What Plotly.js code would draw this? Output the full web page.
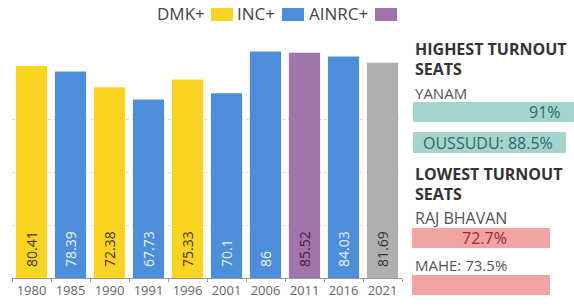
<!DOCTYPE html>
<html><head><meta charset="utf-8">
<script src="https://cdn.plot.ly/plotly-3.0.1.min.js"></script>
<style>html,body{margin:0;padding:0;background:#fff}#c{width:574px;height:307px}</style>
</head><body><div id="c"></div>
<script>
const years = ['1980','1985','1990','1991','1996','2001','2006','2011','2016','2021'];
const turnout = [80.41,78.39,72.38,67.73,75.33,70.1,86,85.52,84.03,81.69];
const winner = ['DMK+','INC+','DMK+','INC+','DMK+','INC+','INC+','AINRC+','INC+','NDA'];
const legendNames = ['DMK+','INC+','AINRC+'];
const highSeats = ['YANAM','OUSSUDU'];
const highValues = [91, 88.5];
const lowSeats = ['RAJ BHAVAN','MAHE'];
const lowValues = [72.7, 73.5];

const fill = {'DMK+':'#F9D423','INC+':'#4C8FD8','AINRC+':'#A274AC','NDA':'#B0AFAF'};
const txt = {'DMK+':'#3b3418','INC+':'#eaf3fc','AINRC+':'#4d1646','NDA':'#333333'};

const W=574,H=307, ml=12, mr=172, mt=45, mb=29;
const pw=W-ml-mr, ph=H-mt-mb;
const px = x => (x-ml)/pw;
const py = y => (mt+ph-y)/ph;
const F = 'Open Sans, sans-serif';

const trace = {
  type:'bar', x:years, y:turnout,
  text: turnout.map(v=>'\u2007'+v),
  textposition:'inside', insidetextanchor:'start', textangle:-90,
  insidetextfont:{family:F, size:14, color: winner.map(w=>txt[w])},
  marker:{color: winner.map(w=>fill[w])},
  hoverinfo:'none', cliponaxis:false
};

const shapes = [];
const annotations = [];
// legend
const legX = [[207,211,233],[277,282,304],[370,375,397]];
legendNames.forEach((n,i)=>{
  annotations.push({xref:'paper',yref:'paper',x:px(legX[i][0]),y:py(14),xanchor:'right',yanchor:'middle',
    text:n,showarrow:false,font:{family:F,size:17,color:'#444'}});
  shapes.push({type:'rect',xref:'paper',yref:'paper',x0:px(legX[i][1]),x1:px(legX[i][2]),y0:py(8),y1:py(21),
    fillcolor:fill[n],line:{width:0}});
});
// right panel
function head(t,y){annotations.push({xref:'paper',yref:'paper',x:px(413),y:py(y),xanchor:'left',yanchor:'middle',
  text:'<b>'+t+'</b>',showarrow:false,font:{family:F,size:16,color:'#333'}});}
function lab(t,y,s){annotations.push({xref:'paper',yref:'paper',x:px(413),y:py(y),xanchor:'left',yanchor:'middle',
  text:t,showarrow:false,font:{family:F,size:s,color:'#555'}});}
function box(x0,x1,y0,y1,c){shapes.push({type:'rect',xref:'paper',yref:'paper',x0:px(x0),x1:px(x1),y0:py(y1),y1:py(y0),fillcolor:c,line:{width:0}});}
function boxtxt(t,x,y,anchor,c){annotations.push({xref:'paper',yref:'paper',x:px(x),y:py(y),xanchor:anchor,yanchor:'middle',
  text:t,showarrow:false,font:{family:F,size:16,color:c}});}
const teal='#A5D4CD', tealT='#2c6b66', pink='#F2A3A3', pinkT='#9a2a2a';
head('HIGHEST TURNOUT',49); head('SEATS',69);
lab(highSeats[0],93,15);
box(413,574,102,122,teal); boxtxt(highValues[0]+'%',563,112,'right',tealT);
box(413,566,132,153,teal); boxtxt(highSeats[1]+': '+highValues[1]+'%',421,143,'left',tealT);
head('LOWEST TURNOUT',174); head('SEATS',194);
lab(lowSeats[0],218,16);
box(412,550,228,248,pink); boxtxt(lowValues[0]+'%',485,238,'center',pinkT);
lab(lowSeats[1]+': '+lowValues[1]+'%',265,15);
box(412,550,275,295,pink);

const layout = {
  width:W,height:H,margin:{l:ml,r:mr,t:mt,b:mb,pad:0},
  paper_bgcolor:'#fff',plot_bgcolor:'#fff',showlegend:false,bargap:0.2,
  xaxis:{type:'category',showline:true,linecolor:'#999',linewidth:1,ticks:'outside',tickson:'boundaries',
    ticklen:3,tickcolor:'#999',tickfont:{family:F,size:13,color:'#666'},showgrid:false,fixedrange:true},
  yaxis:{range:[0,ph/2.635],tickvals:[20,40,60],showgrid:true,gridcolor:'#dcdcdc',griddash:'dot',gridwidth:1,
    showticklabels:false,zeroline:false,ticks:'',fixedrange:true},
  shapes, annotations
};
Plotly.newPlot('c',[trace],layout,{displayModeBar:false,staticPlot:true});
</script></body></html>
